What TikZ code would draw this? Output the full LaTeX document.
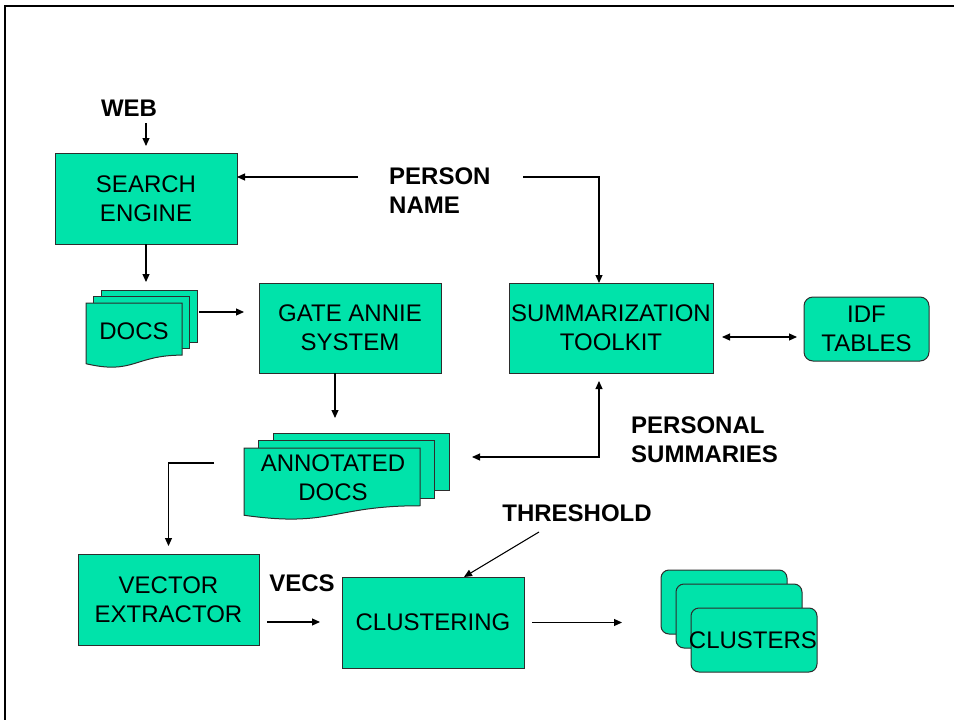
\documentclass[tikz,border=0pt]{standalone}
\usepackage{fontspec}
\setmainfont{Liberation Sans}
\usetikzlibrary{arrows.meta}
\definecolor{boxfill}{RGB}{0,227,170}
\definecolor{boxline}{RGB}{45,45,45}

% stack of three pages, the front one with a wavy lower edge
% #1,#2 top-left of front page, #3 width, #4 height, #5/#6 shift of each back page (right/up)
\newcommand\docstack[6]{%
  \filldraw[page] ({#1+2*#5},{#2-2*#6}) rectangle ++(#3,{0.802*#4});
  \filldraw[page] ({#1+#5},{#2-#6}) rectangle ++(#3,{0.802*#4});
  \filldraw[page] (#1,#2) -- ++(#3,0) -- ++(0,{0.802*#4})
    .. controls ({#1+#3/2},{#2+0.802*#4}) and ({#1+#3/2},{#2+1.107*#4}) .. ({#1},{#2+0.934*#4}) -- cycle;
}

\begin{document}
\begin{tikzpicture}[x=1pt,y=-1pt,
  every node/.style={font=\fontsize{24}{29}\selectfont},
  page/.style={draw=boxline, line width=1pt, fill=boxfill},
  proc/.style={draw=boxline, line width=1pt, fill=boxfill, inner sep=0pt, outer sep=0pt,
    align=center, anchor=north west},
  rproc/.style={proc, rounded corners=9pt},
  tag/.style={font=\fontsize{24}{29}\selectfont\bfseries, inner sep=0pt, align=left},
  tip/.style={Triangle[length=8pt,width=7pt]},
  arr/.style={-{Triangle[length=8pt,width=7pt]}, line width=1.1pt},
  darr/.style={{Triangle[length=8pt,width=7pt]}-{Triangle[length=8pt,width=7pt]}, line width=1.1pt}
]
\useasboundingbox (0,0) rectangle (954,720);

% frame
\draw[line width=2pt] (5,721) -- (5,6) -- (955,6);

% process boxes
\node[proc, minimum width=182pt, minimum height=91pt] (search) at (55,153) {SEARCH\\ENGINE};
\node[proc, minimum width=182pt, minimum height=90pt] (gate) at (259,283) {GATE ANNIE\\SYSTEM};
\node[proc, minimum width=204pt, minimum height=90pt] (summ) at (509,283) {SUMMARIZATION\\TOOLKIT};
\node[rproc, minimum width=125pt, minimum height=64pt] (idf) at (804,297) {IDF\\TABLES};
\node[proc, minimum width=181pt, minimum height=91pt] (vec) at (78,554) {VECTOR\\EXTRACTOR};
\node[proc, minimum width=182pt, minimum height=91pt] (clus) at (342,577) {CLUSTERING};

% document stacks
\docstack{86}{303}{96}{65}{7.5}{6.5}
\node (docs) at (134,331) {DOCS};
\docstack{244}{448}{176}{72}{14.5}{7.5}
\node[align=center] (ann) at (333,477.5) {ANNOTATED\\DOCS};

% cluster stack
\filldraw[page, rounded corners=8pt] (661,570) rectangle ++(126,64);
\filldraw[page, rounded corners=8pt] (676,584) rectangle ++(126,64);
\node[rproc, rounded corners=8pt, minimum width=126pt, minimum height=64pt, inner sep=0pt] (clusters) at (691,608) {};
\node (clusterstext) at (753,640) {CLUSTERS};

% labels
\node[tag] (web) at (129,108) {WEB};
\node[tag, anchor=west] (pname) at (389,190.5) {PERSON\\NAME};
\node[tag, anchor=west] (psum) at (631,439.5) {PERSONAL\\SUMMARIES};
\node[tag] (thr) at (577,513) {THRESHOLD};
\node[tag] (vecs) at (302,583) {VECS};

% connector ends
\coordinate (webout) at (146,123);
\coordinate (pnL) at (358,177);
\coordinate (pnR) at (523,177);
\coordinate (docsin) at (146,282);
\coordinate (docsout) at (199,312);
\coordinate (sumidf) at (713,337);
\coordinate (annin) at (335,418);
\coordinate (annout) at (472,457);
\coordinate (annleft) at (214,463);
\coordinate (vecout) at (267,622);
\coordinate (thrtail) at (539,532);
\coordinate (clusin) at (622,623);

% connectors
\draw[arr, shorten >=7pt] (webout) -- (search.north);
\draw[arr] (pnL) -- (pnL -| search.east);
\draw[arr] (pnR) -| ([xshift=-12pt]summ.north);
\draw[arr] (search.south) -- (docsin);
\draw[arr, shorten >=15pt] (docsout) -- (docsout -| gate.west);
\draw[darr, shorten <=9pt, shorten >=7pt] (sumidf) -- (sumidf -| idf.west);
\draw[arr] (annin |- gate.south) -- (annin);
\draw[darr, shorten >=8pt] (annout) -| ([xshift=-12pt]summ.south);
\draw[arr, shorten >=8pt] (annleft) -| (vec.north);
\draw[arr, shorten >=22pt] (vecout) -- (vecout -| clus.west);
\draw[arr] (thrtail) -- ([xshift=31pt]clus.north);
\draw[arr, shorten <=8pt] (clus.east) -- (clus.east -| clusin);
\end{tikzpicture}
\end{document}
